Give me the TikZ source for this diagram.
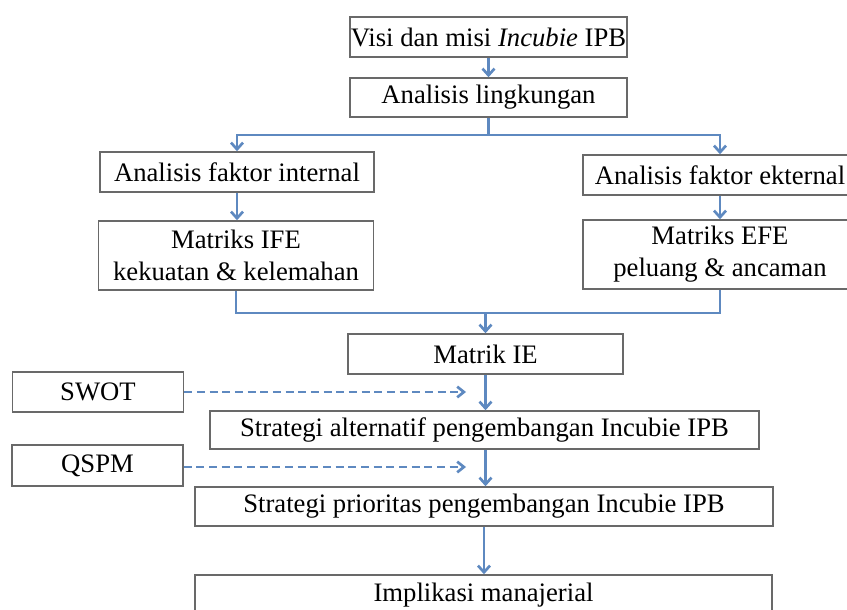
\documentclass[tikz,border=0pt]{standalone}
\usepackage{fontspec}
\setmainfont{Liberation Serif}
\usetikzlibrary{arrows.meta}
\definecolor{birugaris}{RGB}{94,137,192}
\definecolor{abukotak}{RGB}{105,105,105}
\tikzset{
  kotak/.style={draw=abukotak, line width=1.1pt, rectangle, inner sep=0pt, align=center,
    font=\fontsize{20}{24}\selectfont},
  panah/.style={draw=birugaris, line width=2pt, -{Straight Barb[length=5pt,width=9pt]}},
  garis/.style={draw=birugaris, line width=2pt},
  putus/.style={draw=birugaris, line width=2pt, dash pattern=on 6pt off 3.5pt,
    -{Straight Barb[length=5pt,width=8pt]}}
}
\begin{document}
\begin{tikzpicture}[x=0.75pt,y=0.75pt,yscale=-1,xscale=1]
        \useasboundingbox (0,0) rectangle (847,610);
        \clip (0,0) rectangle (847,610);

        % Kotak atas
        \node[kotak, minimum width=207.75pt, minimum height=30pt] (visi) at (488.5,37) {Visi dan misi \textit{Incubie} IPB};
        \node[kotak, minimum width=207.75pt, minimum height=29.25pt] (lingk) at (488.5,97.5) {Analisis lingkungan};
        % Analisis faktor
        \node[kotak, minimum width=205.5pt, minimum height=30pt] (internal) at (237,172) {Analisis faktor internal};
        \node[kotak, minimum width=205.5pt, minimum height=30pt] (eksternal) at (720,175) {Analisis faktor ekternal};
        % Matriks
        \node[kotak, minimum width=206.25pt, minimum height=51.75pt] (ife) at (236,255.5) {Matriks IFE\\kekuatan \& kelemahan};
        \node[kotak, minimum width=205.5pt, minimum height=51.75pt] (efe) at (720,254.5) {Matriks EFE\\peluang \& ancaman};
        \node[kotak, minimum width=206.25pt, minimum height=30pt] (ie) at (485.5,354) {Matrik IE};
        % Alat analisis
        \node[kotak, minimum width=128.25pt, minimum height=30pt] (swot) at (98,392) {SWOT};
        \node[kotak, minimum width=128.25pt, minimum height=30.75pt] (qspm) at (97.5,465.5) {QSPM};
        % Strategi
        \node[kotak, minimum width=411.75pt, minimum height=28.5pt] (alternatif) at (484.5,430) {Strategi alternatif pengembangan Incubie IPB};
        \node[kotak, minimum width=433.5pt, minimum height=29.25pt] (prioritas) at (484,506.5) {Strategi prioritas pengembangan Incubie IPB};
        \node[kotak, minimum width=432.75pt, minimum height=30pt] (implikasi) at (483.5,595) {Implikasi manajerial};

        % Titik bantu
        \coordinate (cabang) at (488.5,135);
        \coordinate (temu) at (485.5,313);
        \coordinate (ujungswot) at (466,392);
        \coordinate (ujungqspm) at (466,467);

        % Garis penghubung
        \draw[panah] (visi.south) -- (visi.south |- lingk.north);
        \draw[garis] (lingk.south) -- (cabang);
        \draw[panah] (cabang) -| (internal.north);
        \draw[panah] (cabang) -| (eksternal.north);
        \draw[panah] (internal.south) -- (internal.south |- ife.north);
        \draw[panah] (eksternal.south) -- (eksternal.south |- efe.north);
        \draw[garis] (ife.south) |- (temu) -| (efe.south);
        \draw[panah] (temu) -- (ie.north);
        \draw[panah] (ie.south) -- (ie.south |- alternatif.north);
        \draw[panah] (ie.south |- alternatif.south) -- (ie.south |- prioritas.north);
        \draw[panah] (prioritas.south) -- (prioritas.south |- implikasi.north);
        \draw[putus] (swot.east) -- (ujungswot);
        \draw[putus] (qspm.east |- ujungqspm) -- (ujungqspm);

\end{tikzpicture}
\end{document}
